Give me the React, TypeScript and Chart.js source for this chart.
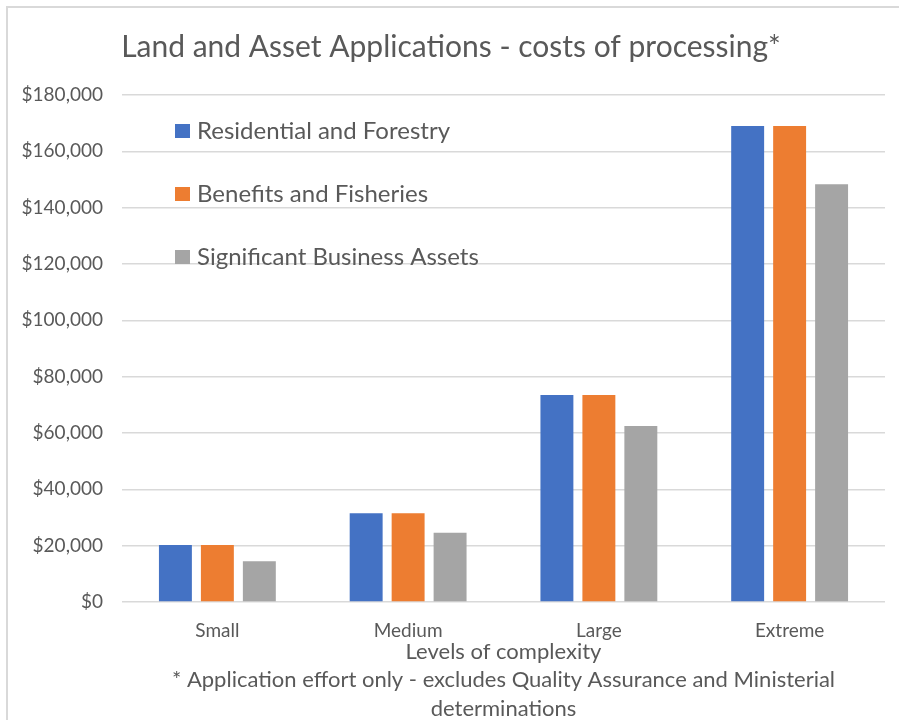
import React, { useEffect, useRef } from "react";
import { Chart, registerables } from "chart.js";

Chart.register(...registerables);

const categories = ["Small", "Medium", "Large", "Extreme"];
const seriesNames = ["Residential and Forestry", "Benefits and Fisheries", "Significant Business Assets"];
const residentialForestry = [20200, 31500, 73500, 169000];
const benefitsFisheries = [20200, 31500, 73500, 169000];
const significantBusinessAssets = [14500, 24600, 62500, 148300];
const seriesColors = ["#4472C4", "#ED7D31", "#A5A5A5"];
const yMin = 0;
const yMax = 180000;
const yStep = 20000;
const chartTitle = "Land and Asset Applications - costs of processing*";
const xAxisTitle = [
  "Levels of complexity",
  "* Application effort only - excludes Quality Assurance and Ministerial",
  "determinations",
];

const FONT = "Lato";
const TEXT = "#595959";
const GRID = "#d9d9d9";

const insideLegend = {
  id: "insideLegend",
  afterDraw(chart: any) {
    const { ctx, chartArea } = chart;
    const x0 = chartArea.left + 53;
    const y0 = chartArea.top + 36;
    ctx.save();
    chart.data.datasets.forEach((ds: any, i: number) => {
      const cy = y0 + i * 63;
      ctx.fillStyle = ds.backgroundColor;
      ctx.fillRect(x0, cy - 7, 15, 14);
      ctx.fillStyle = TEXT;
      ctx.font = `24px ${FONT}`;
      ctx.textBaseline = "middle";
      ctx.textAlign = "left";
      ctx.fillText(ds.label, x0 + 22, cy);
    });
    ctx.restore();
  },
};

export default function App() {
  const canvasRef = useRef<HTMLCanvasElement | null>(null);

  useEffect(() => {
    if (!canvasRef.current) return;
    const values = [residentialForestry, benefitsFisheries, significantBusinessAssets];
    const chart = new Chart(canvasRef.current, {
      type: "bar",
      data: {
        labels: categories,
        datasets: seriesNames.map((name, i) => ({
          label: name,
          data: values[i],
          backgroundColor: seriesColors[i],
          borderWidth: 0,
          categoryPercentage: 0.66,
          barPercentage: 0.785,
        })),
      },
      options: {
        responsive: false,
        animation: false,
        layout: { padding: { left: 17, right: 14, top: 0, bottom: 0 } },
        plugins: {
          legend: { display: false },
          tooltip: { enabled: false },
          title: {
            display: true,
            text: chartTitle,
            color: TEXT,
            font: { family: FONT, size: 30, weight: "normal", lineHeight: 1.2 },
            padding: { top: 29, bottom: 30 },
          },
        },
        scales: {
          x: {
            grid: { display: false, drawTicks: false },
            border: { display: false },
            ticks: {
              color: TEXT,
              font: { family: FONT, size: 19 },
              padding: 17,
            },
            title: {
              display: true,
              text: xAxisTitle,
              color: TEXT,
              font: { family: FONT, size: 22, lineHeight: 1.3 },
              padding: { top: 0, bottom: -3 },
            },
            afterFit(scale: any) {
              scale.height = 118;
            },
          },
          y: {
            min: yMin,
            max: yMax,
            grid: { color: GRID, lineWidth: 1.5, drawTicks: false },
            border: { display: false },
            ticks: {
              stepSize: yStep,
              color: TEXT,
              font: { family: FONT, size: 19 },
              padding: 19,
              callback: (v: any) => "$" + Number(v).toLocaleString("en-US"),
            },
            afterFit(scale: any) {
              scale.width = 105;
            },
          },
        },
      },
      plugins: [insideLegend],
    });
    return () => chart.destroy();
  }, []);

  return (
    <div style={{ position: "absolute", left: 0, top: 0, width: 899, height: 720, overflow: "hidden", background: "#fff" }}>
      <div
        style={{
          position: "absolute",
          left: 6,
          top: 6,
          width: 920,
          height: 740,
          borderLeft: `2px solid ${GRID}`,
          borderTop: `2px solid ${GRID}`,
        }}
      />
      <canvas ref={canvasRef} width={899} height={720} style={{ position: "absolute", left: 0, top: 0 }} />
    </div>
  );
}
